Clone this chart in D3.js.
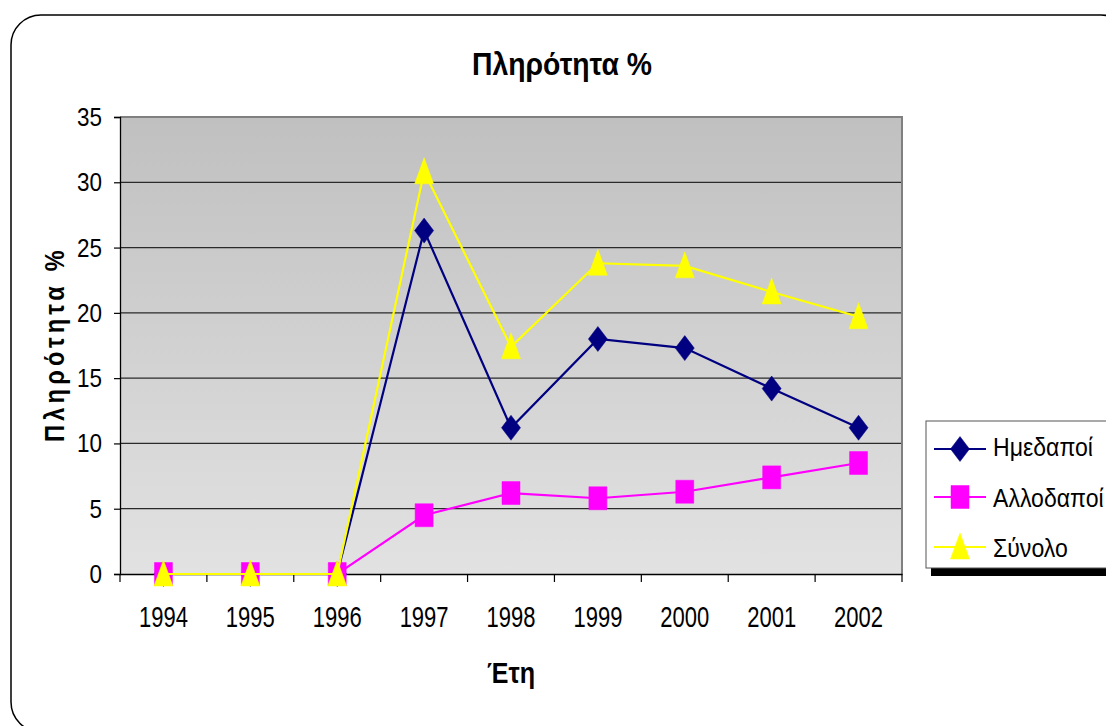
<!DOCTYPE html>
<html><head><meta charset="utf-8">
<script src="https://cdn.jsdelivr.net/npm/d3@7/dist/d3.min.js"></script>
<style>body{margin:0;background:#fff;} svg{display:block;font-family:"Liberation Sans",Arial,sans-serif;}</style>
</head><body>
<svg id="c" width="1106" height="726"></svg>
<script>
const years = ["1994","1995","1996","1997","1998","1999","2000","2001","2002"];
const imedapoi = [0,0,0,26.3,11.2,18.0,17.3,14.2,11.2];
const allodapoi = [0,0,0,4.5,6.2,5.8,6.3,7.4,8.5];
const synolo = [0,0,0,30.8,17.4,23.8,23.6,21.6,19.7];
const yTicks = [0,5,10,15,20,25,30,35];
const seriesNames = ["Ημεδαποί","Αλλοδαποί","Σύνολο"];
const titleText = "Πληρότητα %";
const yTitleText = "Πληρότητα %";
const xTitleText = "Έτη";

const series = [
  {name: seriesNames[0], values: imedapoi, color: "#000080", shape: "diamond"},
  {name: seriesNames[1], values: allodapoi, color: "#FF00FF", shape: "square"},
  {name: seriesNames[2], values: synolo, color: "#FFFF00", shape: "triangle"}
];

const svg = d3.select("#c");
const P = {left:120, right:902, top:117, bottom:574};

const x = d3.scaleBand().domain(years).range([P.left, P.right]).padding(0);
const y = d3.scaleLinear().domain([0,35]).range([P.bottom, P.top]);

// outer rounded frame
svg.append("rect").attr("x",11).attr("y",15).attr("width",1120).attr("height",717)
  .attr("rx",30).attr("ry",30).attr("fill","#fff").attr("stroke","#000").attr("stroke-width",1.5);

// gradient
const defs = svg.append("defs");
const g = defs.append("linearGradient").attr("id","bg").attr("x1",0).attr("y1",0).attr("x2",0).attr("y2",1);
g.append("stop").attr("offset","0%").attr("stop-color","#c0c0c0");
g.append("stop").attr("offset","100%").attr("stop-color","#e2e2e2");

svg.append("rect").attr("x",P.left).attr("y",P.top).attr("width",P.right-P.left).attr("height",P.bottom-P.top)
  .attr("fill","url(#bg)");

// gridlines
svg.append("g").selectAll("line").data(yTicks.filter(d=>d>0 && d<35)).join("line")
  .attr("x1",P.left).attr("x2",P.right).attr("y1",d=>y(d)).attr("y2",d=>y(d))
  .attr("stroke","#2a2a2a").attr("stroke-width",1.2);

// plot border top/right
svg.append("path").attr("d",`M${P.left},${P.top}H${P.right}V${P.bottom}`)
  .attr("fill","none").attr("stroke","#808080").attr("stroke-width",2);

// y axis
const yAxis = svg.append("g").attr("transform",`translate(${P.left},0)`)
  .call(d3.axisLeft(y).tickValues(yTicks).tickSize(6).tickFormat(""));
yAxis.select(".domain").attr("stroke","#000").attr("stroke-width",1.3);
yAxis.selectAll(".tick line").attr("stroke","#000").attr("stroke-width",1.2);

// x axis with ticks at category boundaries
const xAxis = svg.append("g").attr("transform",`translate(0,${P.bottom})`)
  .call(d3.axisBottom(x).tickSize(0).tickFormat(""));
xAxis.select(".domain").attr("stroke","#000").attr("stroke-width",1.3);
const bounds = years.map(d=>x(d)).concat([x(years[years.length-1])+x.bandwidth()]);
svg.append("g").selectAll("line").data(bounds).join("line")
  .attr("x1",d=>d).attr("x2",d=>d).attr("y1",P.bottom).attr("y2",P.bottom+8)
  .attr("stroke","#000").attr("stroke-width",1.2);

// helper for fitted text
function fitText(parent, txt, tx, ty, size, weight, anchor, targetW, rotate, spacing){
  const grp = parent.append("g").attr("transform",`translate(${tx},${ty})` + (rotate?` rotate(${rotate})`:""));
  const t = grp.append("text").attr("x",0).attr("y",0).attr("font-size",size).attr("font-weight",weight)
    .attr("text-anchor",anchor).attr("fill","#000").text(txt);
  if (spacing) t.attr("letter-spacing",spacing);
  const w = t.node().getComputedTextLength();
  const s = targetW / w;
  t.attr("transform",`scale(${s},1)`);
  return s;
}

// y tick labels
const ys = (()=>{ const t = svg.append("text").attr("font-size",25).text("35"); const w=t.node().getComputedTextLength(); t.remove(); return 25/w; })();
yTicks.forEach(v=>{
  svg.append("text").attr("transform",`translate(102,${y(v)+9}) scale(${ys},1)`)
    .attr("font-size",25).attr("text-anchor","end").attr("fill","#000").text(v);
});
// x tick labels
const xs = (()=>{ const t = svg.append("text").attr("font-size",30).text("1994"); const w=t.node().getComputedTextLength(); t.remove(); return 49/w; })();
years.forEach(d=>{
  svg.append("text").attr("transform",`translate(${x(d)+x.bandwidth()/2},627) scale(${xs},1)`)
    .attr("font-size",30).attr("text-anchor","middle").attr("fill","#000").text(d);
});

// titles
fitText(svg, titleText, 562, 75, 32, "bold", "middle", 180);
fitText(svg, xTitleText, 511, 683, 29, "bold", "middle", 48);
fitText(svg, yTitleText, 64, 344, 28, "bold", "middle", 196, -90, 5);

// marker path generator
function markerPath(shape, cx, cy){
  if (shape==="diamond") return `M${cx},${cy-12.5}L${cx+9.5},${cy}L${cx},${cy+12.5}L${cx-9.5},${cy}Z`;
  if (shape==="square") return `M${cx-9},${cy-11.5}h18v23h-18Z`;
  return `M${cx},${cy-14}L${cx+9.5},${cy+12}L${cx-9.5},${cy+12}Z`;
}

const line = d3.line().x((d,i)=>x(years[i])+x.bandwidth()/2).y(d=>y(d));
series.forEach(s=>{
  const gS = svg.append("g");
  gS.append("path").attr("d",line(s.values)).attr("fill","none").attr("stroke",s.color).attr("stroke-width",2.2);
  gS.selectAll("path.m").data(s.values).join("path").attr("class","m")
    .attr("d",(d,i)=>markerPath(s.shape, x(years[i])+x.bandwidth()/2, y(d)))
    .attr("fill",s.color).attr("stroke",s.color).attr("stroke-width",0.5);
});

// legend
const L = {x:926, y:421, w:200, h:147};
svg.append("rect").attr("x",L.x+5).attr("y",L.y+6).attr("width",L.w).attr("height",L.h+2).attr("fill","#000");
svg.append("rect").attr("x",L.x).attr("y",L.y).attr("width",L.w).attr("height",L.h)
  .attr("fill","#fff").attr("stroke","#555").attr("stroke-width",1);
const ls = (()=>{ const t = svg.append("text").attr("font-size",25).text(seriesNames[0]); const w=t.node().getComputedTextLength(); t.remove(); return 100/w; })();
const rowsY = [449,497,547];
const baseY = [456,507,557];
series.forEach((s,i)=>{
  svg.append("line").attr("x1",934).attr("x2",986).attr("y1",rowsY[i]).attr("y2",rowsY[i])
    .attr("stroke",s.color).attr("stroke-width",2.2);
  svg.append("path").attr("d",markerPath(s.shape,960,rowsY[i])).attr("fill",s.color).attr("stroke",s.color).attr("stroke-width",0.5);
  svg.append("text").attr("transform",`translate(993,${baseY[i]}) scale(${ls},1)`)
    .attr("font-size",25).attr("fill","#000").text(s.name);
});
</script>
</body></html>
